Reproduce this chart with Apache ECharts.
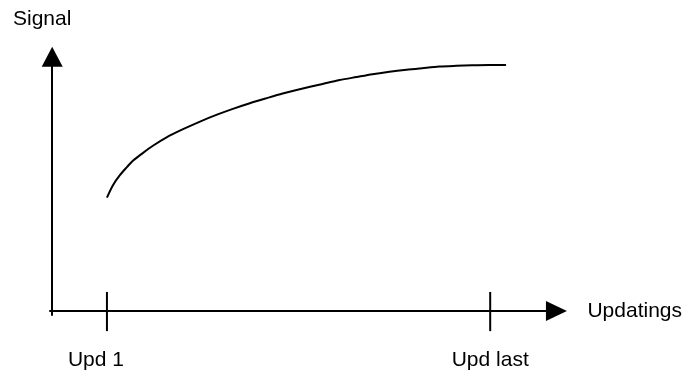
<!DOCTYPE html>
<html>
<head>
<meta charset="utf-8">
<script src="https://cdn.jsdelivr.net/npm/echarts@6/dist/echarts.min.js"></script>
<style>
html,body{margin:0;padding:0;background:#fff;}
#chart{width:685px;height:374px;}
</style>
</head>
<body>
<div id="chart"></div>
<script>
// Data (arbitrary units)
var curveX = [1.00, 1.11, 1.24, 1.37, 1.47, 1.66, 1.84, 2.09, 2.39, 2.70, 3.01, 3.30, 3.61, 3.92, 4.21, 4.52, 4.94, 5.25, 5.56, 5.85, 6.16, 6.47, 6.76, 7.07, 7.38, 7.67, 7.98, 8.29];
var curveY = [4.46, 4.95, 5.35, 5.67, 5.90, 6.22, 6.50, 6.83, 7.15, 7.45, 7.72, 7.95, 8.17, 8.37, 8.55, 8.72, 8.93, 9.08, 9.20, 9.31, 9.41, 9.49, 9.55, 9.61, 9.64, 9.66, 9.67, 9.67];
var tickValues = [1, 8];
var tickLabels = ['Upd 1', 'Upd last'];
var tickTop = 0.75;
var tickBottom = -0.79;
var xName = 'Updatings';
var yName = 'Signal';

var curveData = curveX.map(function (x, i) { return [x, curveY[i]]; });

var font = 'Liberation Sans, Arial, sans-serif';
var fs = 21;
var tickSeries = tickValues.map(function (v) {
  return {
    type: 'line',
    data: [[v, tickTop], [v, tickBottom]],
    showSymbol: false,
    clip: false,
    silent: true,
    lineStyle: { color: '#000', width: 2 }
  };
});

var chart = echarts.init(document.getElementById('chart'));
chart.setOption({
  animation: false,
  backgroundColor: '#fff',
  grid: { left: 50, right: 127.5, top: 56.7, bottom: 58.9, containLabel: false },
  xAxis: {
    type: 'value', min: -0.04, max: 9.21,
    name: xName, nameLocation: 'end', nameGap: 31,
    nameTextStyle: { color: '#000', fontSize: fs, fontFamily: font, align: 'left', verticalAlign: 'middle', padding: [0, 0, 14, 0] },
    axisLine: { show: true, onZero: true, symbol: ['none', 'triangle'], symbolSize: [20, 21], lineStyle: { color: '#000', width: 2 } },
    axisTick: { show: false },
    splitLine: { show: false },
    axisLabel: {
      show: true, customValues: tickValues, margin: 35,
      color: '#000', fontSize: fs, fontFamily: font,
      formatter: function (v) {
        var i = tickValues.indexOf(v);
        if (i < 0) return '';
        return i === 0 ? '{a|' + tickLabels[i] + '}' : tickLabels[i];
      },
      rich: { a: { color: '#000', fontSize: fs, fontFamily: font, padding: [0, 22, 0, 0] } }
    }
  },
  yAxis: {
    type: 'value', min: -0.16, max: 10,
    name: yName, nameLocation: 'end', nameGap: 37,
    nameTextStyle: { color: '#000', fontSize: fs, fontFamily: font, align: 'center', verticalAlign: 'middle', padding: [0, 20, 0, 0] },
    axisLine: { show: true, symbol: ['none', 'triangle'], symbolSize: [21, 20], lineStyle: { color: '#000', width: 2 } },
    axisTick: { show: false },
    axisLabel: { show: false },
    splitLine: { show: false }
  },
  series: [{
    type: 'line',
    data: curveData,
    smooth: 0.3,
    showSymbol: false,
    clip: false,
    lineStyle: { color: '#000', width: 2 }
  }].concat(tickSeries)
});
</script>
</body>
</html>
